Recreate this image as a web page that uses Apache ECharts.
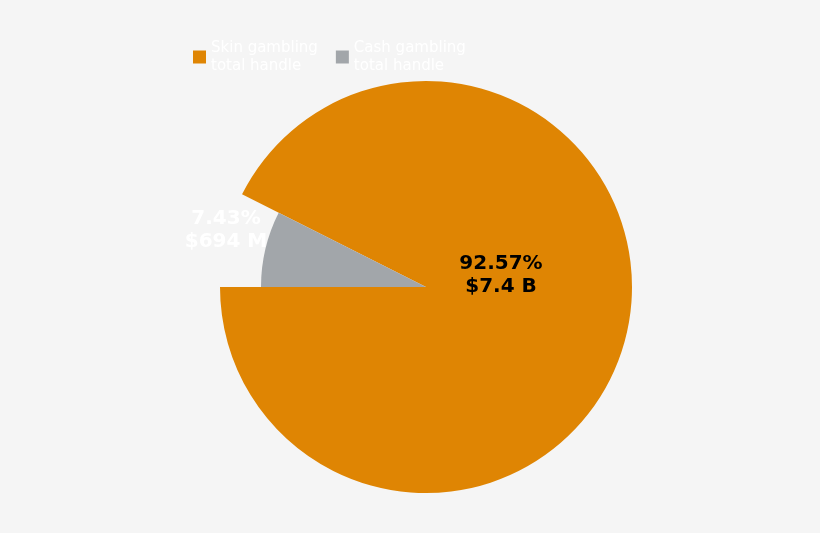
<!DOCTYPE html>
<html>
<head>
<meta charset="utf-8">
<script src="https://cdn.jsdelivr.net/npm/echarts@6/dist/echarts.min.js"></script>
<style>
html,body{margin:0;padding:0;background:#f5f5f5;}
#c{width:820px;height:533px;}
</style>
</head>
<body>
<div id="c"></div>
<script>
const categories = ['Skin gambling\ntotal handle', 'Cash gambling\ntotal handle'];
const shares = [92.57, 7.43];
const amounts = ['$7.4 B', '$694 M'];
const colors = ['#df8503', '#a2a6aa'];

const chart = echarts.init(document.getElementById('c'));
const font = 'DejaVu Sans';
const startAngle = 180 - shares[1] / 100 * 360;

function labelFor(i, color, offset) {
  return {
    show: true, position: 'center', offset: offset,
    formatter: shares[i].toFixed(2) + '%\n' + amounts[i],
    color: color, fontFamily: font, fontWeight: 'bold', fontSize: 20, lineHeight: 23
  };
}

const hidden = { itemStyle: { color: 'rgba(0,0,0,0)' }, label: { show: false }, tooltip: { show: false } };

chart.setOption({
  backgroundColor: '#f5f5f5',
  animation: false,
  legend: {
    data: categories,
    left: 188, top: 34,
    itemWidth: 13, itemHeight: 13, itemGap: 18,
    icon: 'rect',
    selectedMode: false,
    textStyle: { color: '#ffffff', fontFamily: font, fontSize: 15, lineHeight: 18 }
  },
  series: [
    {
      type: 'pie', center: [426, 287], radius: [0, 206], startAngle: startAngle,
      clockwise: true, silent: true, emphasis: { disabled: true },
      labelLine: { show: false },
      itemStyle: { borderWidth: 0 },
      data: [
        { name: categories[0], value: shares[0], itemStyle: { color: colors[0] }, label: labelFor(0, '#000000', [75, -12]) },
        Object.assign({ name: '_a', value: shares[1] }, hidden)
      ]
    },
    {
      type: 'pie', center: [426, 287], radius: [0, 165], startAngle: startAngle,
      clockwise: true, silent: true, emphasis: { disabled: true },
      labelLine: { show: false },
      itemStyle: { borderWidth: 0 },
      data: [
        Object.assign({ name: '_b', value: shares[0] }, hidden),
        { name: categories[1], value: shares[1], itemStyle: { color: colors[1] }, label: labelFor(1, '#ffffff', [-200, -57]) }
      ]
    }
  ]
});
</script>
</body>
</html>
